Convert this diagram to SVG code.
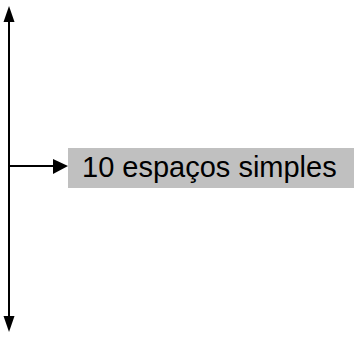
<svg xmlns="http://www.w3.org/2000/svg" width="358" height="338" viewBox="0 0 358 338">
<defs>
<style>
.ln{stroke:#000;stroke-width:2;fill:none}
.ah{fill:#000}
.lbl{font-family:"Liberation Sans",Arial,sans-serif;font-size:29px;fill:#000}
</style>
</defs>
<g id="connectors">
<line class="ln" x1="9" y1="20" x2="9" y2="318"/>
<polygon class="ah" points="9,6 3.5,22 14.5,22"/>
<polygon class="ah" points="9,332 3.5,316 14.5,316"/>
<line class="ln" x1="9" y1="166" x2="56" y2="166"/>
<polygon class="ah" points="68,166 53,159 53,174"/>
</g>
<g id="node-label">
<rect x="68" y="148" width="286" height="40" fill="#c0c0c0"/>
<text class="lbl" x="82" y="176.5">10 espaços simples</text>
</g>
</svg>
